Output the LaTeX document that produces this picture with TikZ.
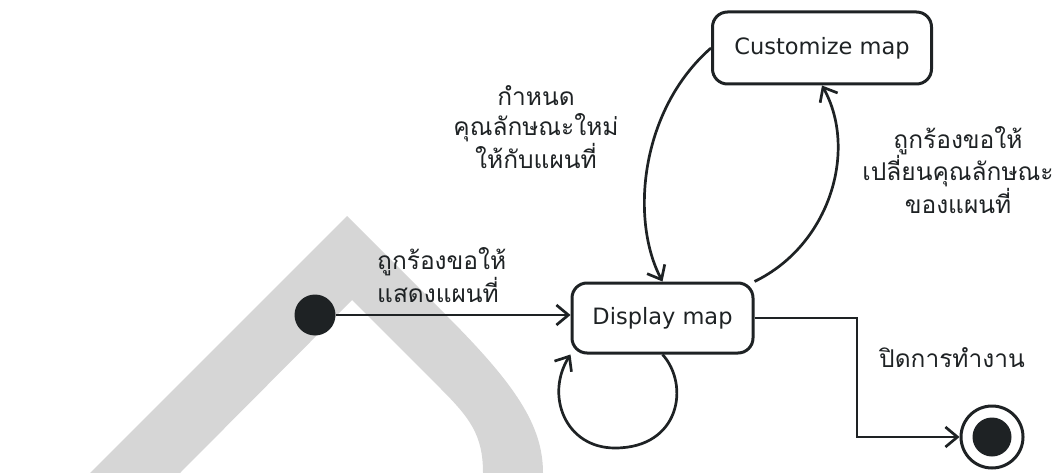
\documentclass[tikz,border=0pt]{standalone}
\usepackage{fontspec}
\setmainfont{DejaVu Sans}
\newfontfamily\thaifont[Script=Thai]{Loma}
\usetikzlibrary{arrows.meta}
\definecolor{ink}{HTML}{1E2224}
\definecolor{wmark}{HTML}{D6D6D6}
\begin{document}
\begin{tikzpicture}[x=1pt,y=-1pt,
  state/.style={draw=ink,line width=3pt,rounded corners=15pt,
    font=\fontsize{22.5}{26}\selectfont,text=ink,inner sep=0pt},
  conn/.style={draw=ink,line width=2.7pt,
    -{Straight Barb[length=12pt,width=20pt,line width=2.7pt]}},
  lbl/.style={font=\thaifont\fontsize{24.5}{30}\selectfont,text=ink,inner sep=0pt}]
\useasboundingbox (0,0) rectangle (1059,473);
% light grey arch in the background
\fill[wmark] (90,473) -- (347,216) -- (445,314)
  .. controls (515,384) and (543,425) .. (543,473)
  -- (483,473) .. controls (483,435) and (470,418) .. (440,388)
  -- (352,300) -- (180,473) -- cycle;
% states
\node[state,minimum width=219pt,minimum height=72pt] (cm) at (822,48) {Customize map};
\node[state,minimum width=181pt,minimum height=70pt] (dm) at (662.5,318) {Display map};
\node[circle,fill=ink,minimum size=41pt,inner sep=0pt] (init) at (315,315) {};
\node[circle,draw=ink,line width=3pt,minimum size=62pt,inner sep=0pt] (final) at (992,437) {};
\node[circle,fill=ink,minimum size=39pt,inner sep=0pt] (finaldot) at (final) {};
\coordinate (bend) at (857,437);
% transitions
\draw[conn] (init.east) -- (init.east -| dm.west);
\draw[conn] (cm.west) .. controls (640,110) and (630,220) .. (dm.north);
\draw[conn] (dm.north east) .. controls (830,245) and (858,150) .. (cm.south);
\draw[conn] (dm.south) .. controls (690,385) and (680,448) .. (615,448)
  .. controls (565,448) and (545,395) .. (dm.south west);
\draw[conn,rounded corners=0pt] (dm.east) -| (bend) -- (final.west);
% transition labels
\node[lbl,align=left,anchor=west] (l1) at (377,275) {ถูกร้องขอให้\\แสดงแผนที่};
\node[lbl,align=center] (l2) at (536,127) {กำหนด\\คุณลักษณะใหม่\\ให้กับแผนที่};
\node[lbl,align=center] (l3) at (958,170) {ถูกร้องขอให้\\เปลี่ยนคุณลักษณะ\\ของแผนที่};
\node[lbl] (l4) at (952,358) {ปิดการทำงาน};
\end{tikzpicture}
\end{document}
